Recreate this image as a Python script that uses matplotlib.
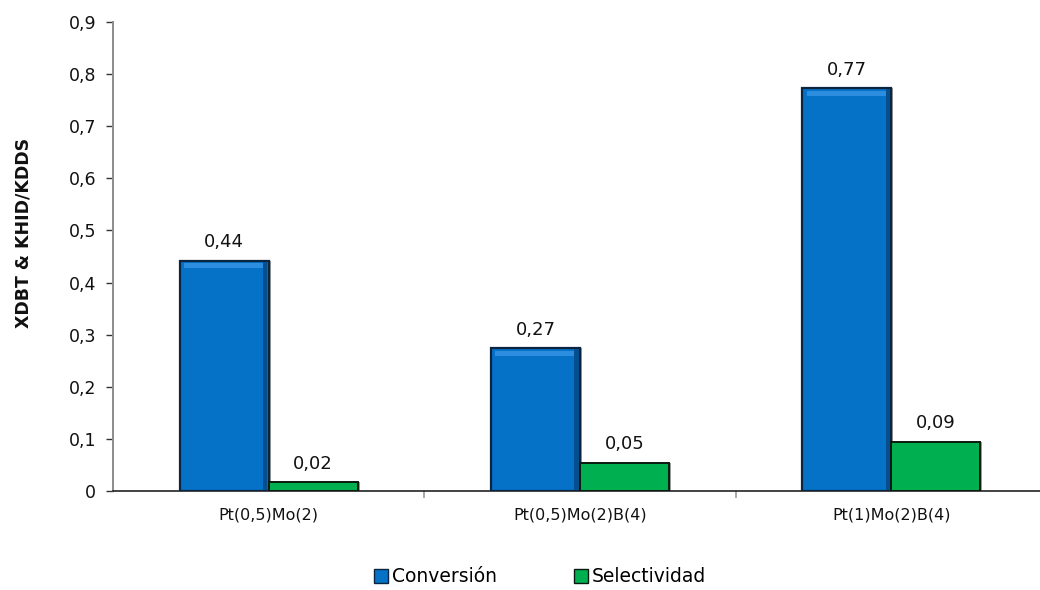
import matplotlib
matplotlib.use("Agg")
import matplotlib.pyplot as plt
from matplotlib.ticker import FuncFormatter, FixedLocator
from matplotlib.patches import Patch
import numpy as np

plt.rcParams['font.family'] = ['DejaVu Sans']

categories = ["Pt(0,5)Mo(2)", "Pt(0,5)Mo(2)B(4)", "Pt(1)Mo(2)B(4)"]
conversion = [0.442, 0.274, 0.773]
selectivity = [0.017, 0.054, 0.0949]
series_names = ["Conversión", "Selectividad"]
y_ticks = [0.0, 0.1, 0.2, 0.3, 0.4, 0.5, 0.6, 0.7, 0.8, 0.9]

blue = "#0572C8"
blue_edge = "#0B2440"
green = "#00B050"
green_edge = "#0A1A10"


def comma(v, _pos=None):
    if abs(v) < 1e-9:
        return "0"
    return f"{v:.1f}".replace(".", ",")


fig = plt.figure(figsize=(10.4, 5.9), dpi=100)
ax = fig.add_axes([113 / 1040, 1 - 491 / 590, (1047 - 113) / 1040, (491 - 22) / 590])

x = np.arange(len(categories))
w = 0.286

# soft grey drop shadows behind the bars
ax.bar(x - w / 2 + 0.006, conversion, w, color="#9A9A9A", linewidth=0, zorder=1)
ax.bar(x + w / 2 + 0.006, selectivity, w, color="#9A9A9A", linewidth=0, zorder=1)

bars_c = ax.bar(x - w / 2, conversion, w, color=blue, edgecolor=blue_edge,
                linewidth=1.6, zorder=3)
bars_s = ax.bar(x + w / 2, selectivity, w, color=green, edgecolor=green_edge,
                linewidth=1.4, zorder=3)

# bevel: lighter band along the top and darker strip on the right of blue bars
for xi, v in zip(x, conversion):
    ax.bar(xi - w / 2, 0.010, w * 0.9, bottom=v - 0.015, color="#2D8EE0",
           linewidth=0, zorder=4)
    ax.bar(xi - w / 2 + w * 0.46, v - 0.004, w * 0.05, bottom=0.002,
           color="#064F8E", linewidth=0, zorder=4)

for xi, v in zip(x, conversion):
    ax.text(xi - w / 2, v + 0.018, f"{v:.2f}".replace(".", ","), ha="center",
            va="bottom", fontsize=13, color="#111111")
for xi, v in zip(x, selectivity):
    ax.text(xi + w / 2, v + 0.018, f"{v:.2f}".replace(".", ","), ha="center",
            va="bottom", fontsize=13, color="#111111")

ax.set_xlim(-0.5, 2.5)
ax.set_ylim(0, 0.9)
ax.yaxis.set_major_locator(FixedLocator(y_ticks))
ax.yaxis.set_major_formatter(FuncFormatter(comma))
ax.tick_params(axis="y", direction="out", length=5, width=1, color="#333333",
               labelsize=12.5, labelcolor="#111111", pad=7)

ax.xaxis.set_major_locator(FixedLocator(x))
ax.set_xticklabels(categories, fontsize=11.5, color="#111111")
ax.xaxis.set_minor_locator(FixedLocator([0.5, 1.5]))
ax.tick_params(axis="x", which="major", length=0, pad=12)
ax.tick_params(axis="x", which="minor", direction="out", length=5, width=1.2,
               color="#999999")

for s in ["top", "right"]:
    ax.spines[s].set_visible(False)
ax.spines["left"].set_color("#8C8C8C")
ax.spines["left"].set_linewidth(1.4)
ax.spines["bottom"].set_color("#111111")
ax.spines["bottom"].set_linewidth(1.1)

fig.text(24 / 1040, 1 - 233 / 590, "XDBT & KHID/KDDS", rotation=90, ha="center",
         va="center", fontsize=12.5, fontweight="bold", color="#111111")

handles = [Patch(facecolor=blue, edgecolor=blue_edge, linewidth=1.0),
           Patch(facecolor=green, edgecolor=green_edge, linewidth=1.0)]
fig.legend(handles, series_names, loc="center", bbox_to_anchor=(540 / 1040, 1 - 577 / 590),
           ncol=2, frameon=False, fontsize=13.5, handlelength=0.75, handleheight=0.75,
           handletextpad=0.2, columnspacing=4.1)

fig.savefig("out.png", dpi=100, facecolor="white")
